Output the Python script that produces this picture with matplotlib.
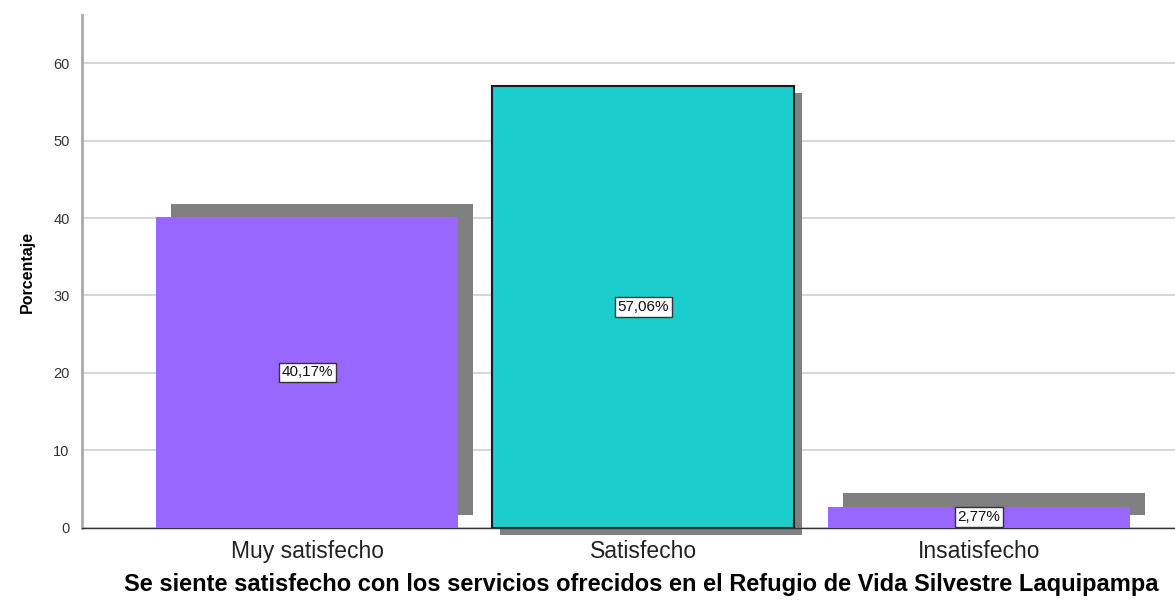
import matplotlib.pyplot as plt

plt.rcParams['font.family'] = ['Liberation Sans', 'DejaVu Sans']

categorias = ['Muy satisfecho', 'Satisfecho', 'Insatisfecho']
porcentajes = [40.17, 57.06, 2.77]
etiquetas = ['40,17%', '57,06%', '2,77%']
colores = ['#9966ff', '#1ccdcd', '#9966ff']
bordes = ['none', '#1a1a1a', 'none']
# desplazamiento de la sombra (x en unidades de categoria, y en %)
sombra_dx = [0.045, 0.024, 0.045]
sombra_dy = [1.68, -0.9, 1.68]

fig = plt.figure(figsize=(11.75, 6.01), dpi=100)
ax = fig.add_axes([0.0698, 0.1215, 0.9302, 0.8536])

x = list(range(len(categorias)))
for i in x:
    ax.bar(i + sombra_dx[i], porcentajes[i], width=0.9, bottom=sombra_dy[i],
           color='#808080', zorder=2, clip_on=False)
    ax.bar(i, porcentajes[i], width=0.9, color=colores[i],
           edgecolor=bordes[i], linewidth=1.5, zorder=3)
    ax.text(i, porcentajes[i] / 2, etiquetas[i], ha='center', va='center',
            fontsize=11, color='#111111', zorder=5,
            bbox=dict(boxstyle='square,pad=0.18', fc='white', ec='#333333', lw=1))

ax.set_xlim(-0.67, 2.583)
ax.set_ylim(0, 66.2)
ax.set_yticks([0, 10, 20, 30, 40, 50, 60])
ax.yaxis.grid(True, color='#d0d0d0', lw=1.2, zorder=0)
ax.set_axisbelow(True)
ax.set_xticks(x)
ax.set_xticklabels(categorias, fontsize=16.5, color='#222222')
ax.tick_params(axis='x', length=0, pad=9)
ax.tick_params(axis='y', length=0, pad=9, labelsize=10.5, labelcolor='#333333')

for s in ['top', 'right']:
    ax.spines[s].set_visible(False)
ax.spines['left'].set_color('#aaaaaa')
ax.spines['left'].set_linewidth(2)
ax.spines['bottom'].set_color('#333333')
ax.spines['bottom'].set_linewidth(1)

ax.set_ylabel('Porcentaje', fontsize=11.5, fontweight='bold', labelpad=13)
fig.text(0.546, 0.027, 'Se siente satisfecho con los servicios ofrecidos en el Refugio de Vida Silvestre Laquipampa',
         ha='center', va='center', fontsize=17, fontweight='bold')

fig.savefig('out.png', dpi=100)
